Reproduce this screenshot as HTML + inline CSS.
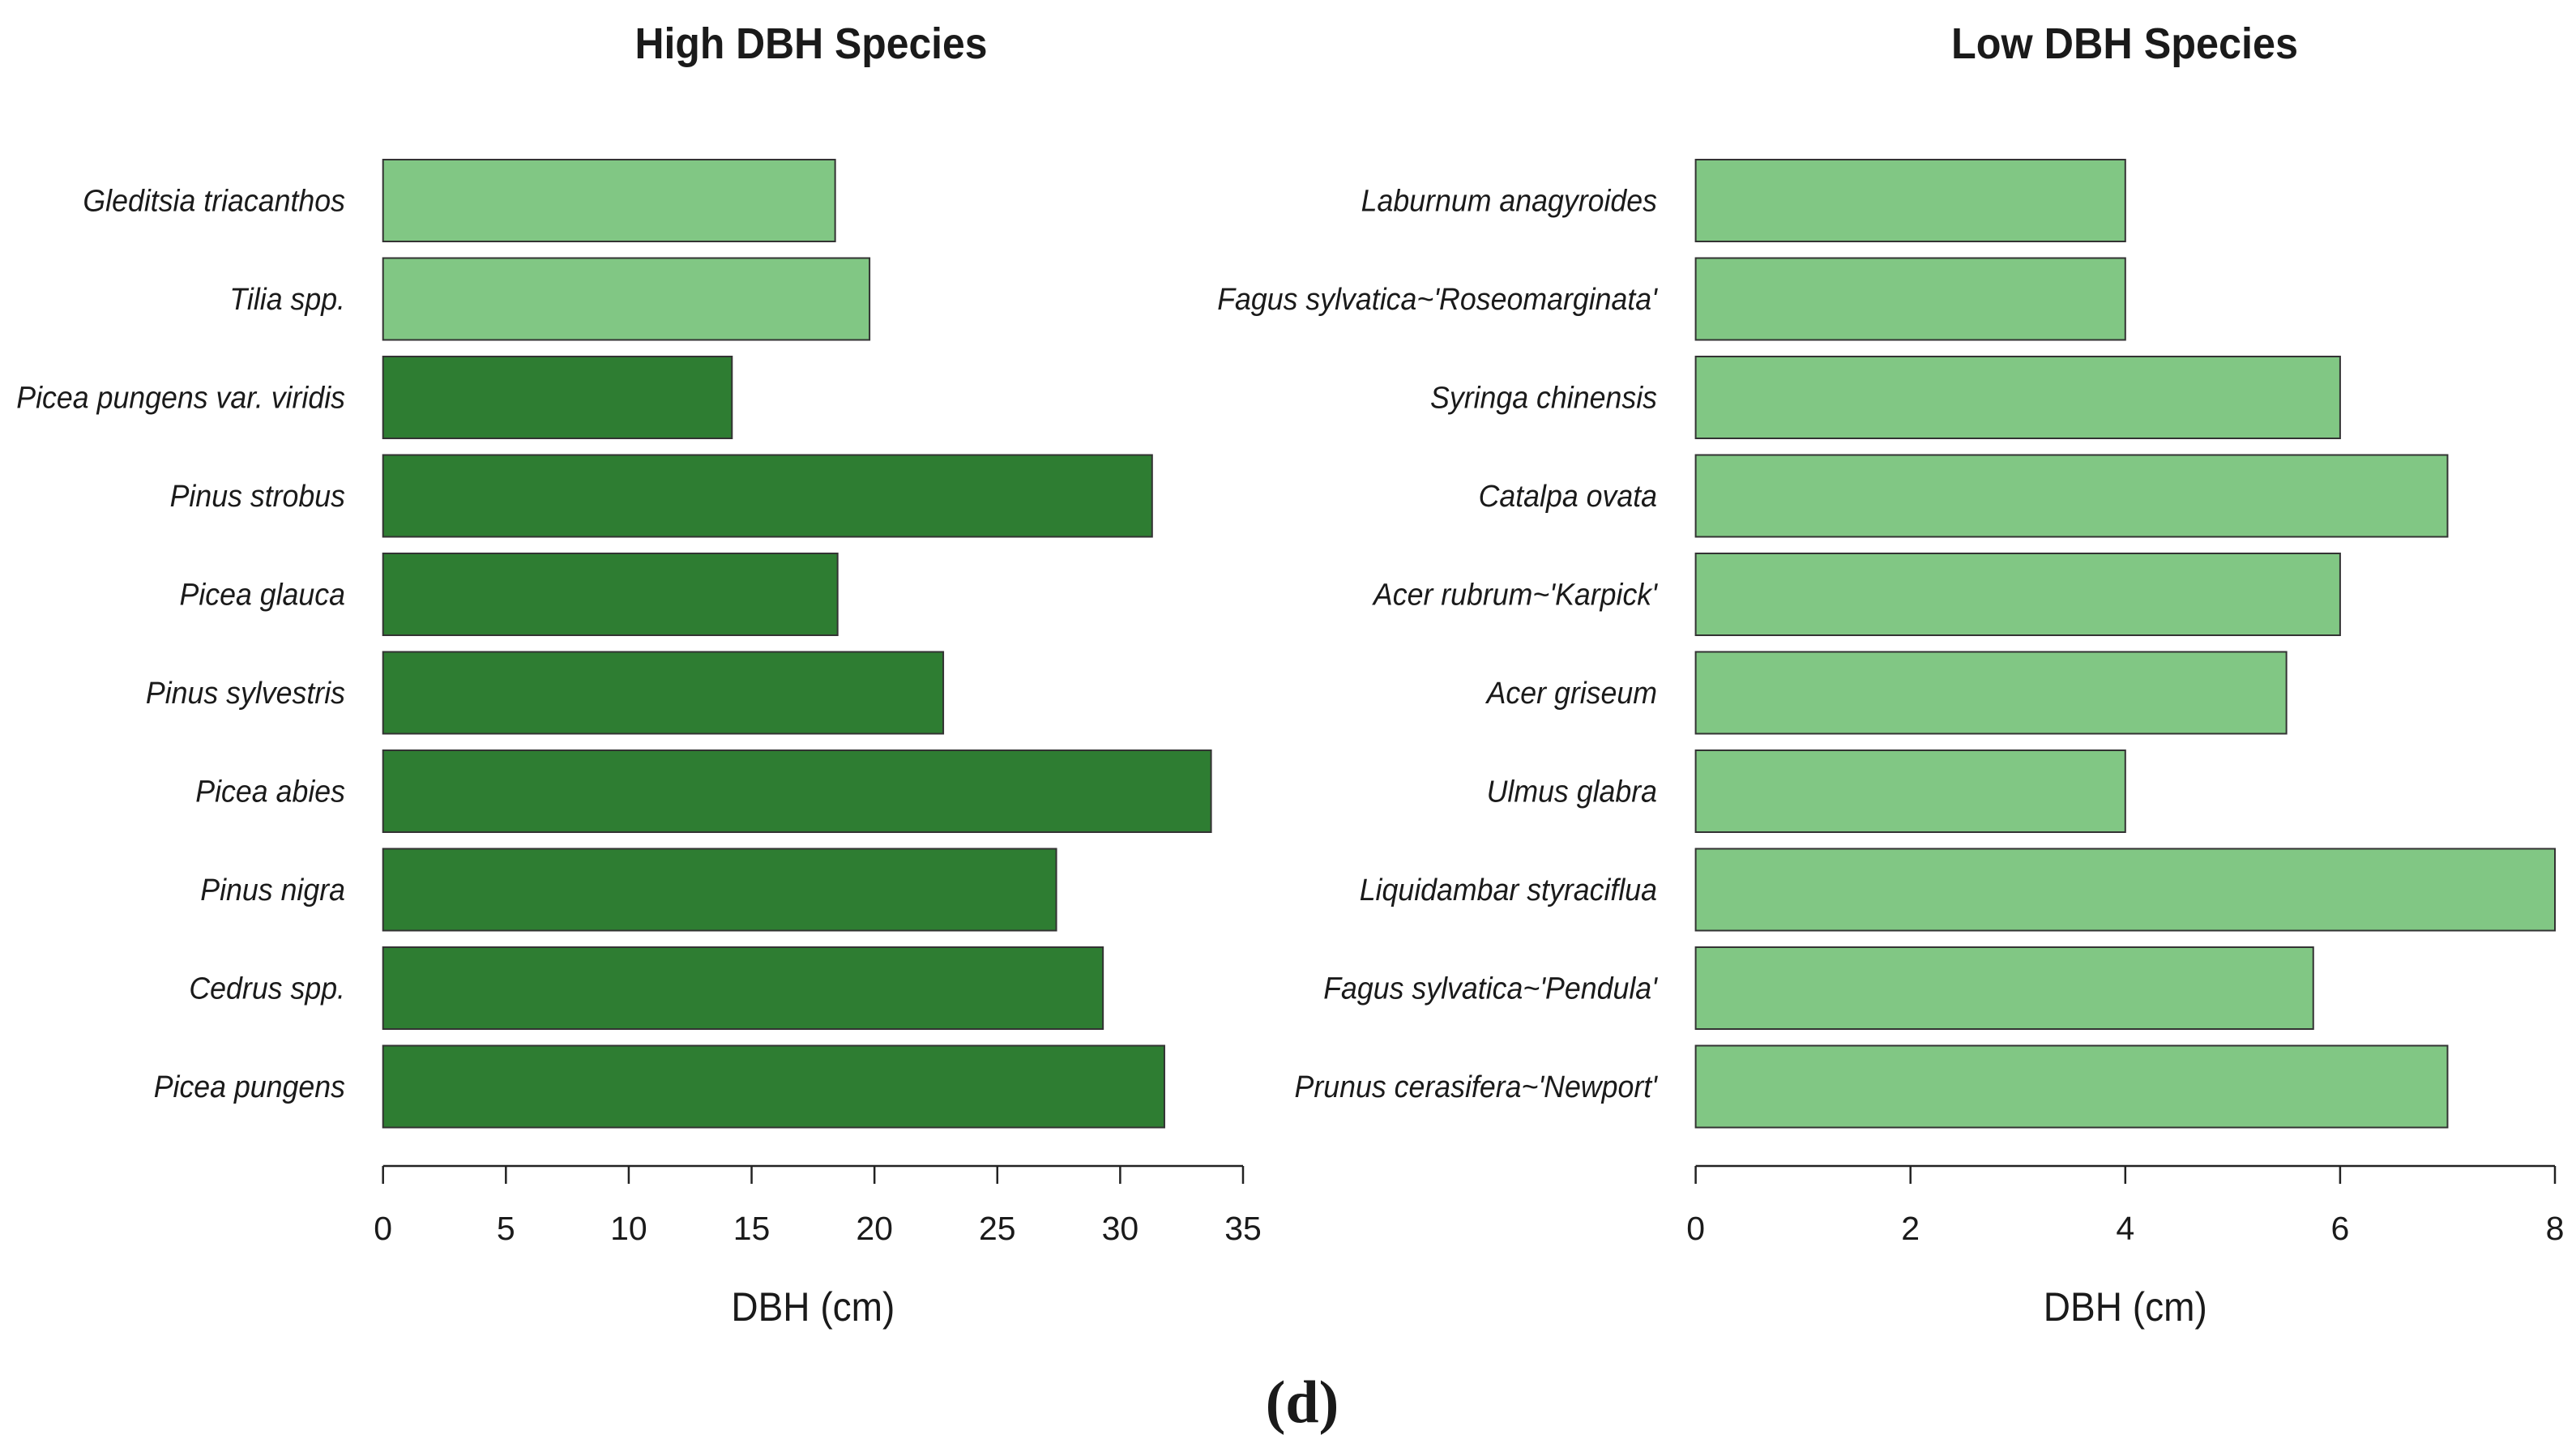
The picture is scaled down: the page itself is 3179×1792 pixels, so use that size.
<!DOCTYPE html>
<html><head><meta charset="utf-8"><style>
html,body{margin:0;padding:0;background:#fff;}
svg{display:block;}
text{font-family:"Liberation Sans",Arial,sans-serif;fill:#1a1a1a;}
</style></head><body>
<svg id="chart" width="3179" height="1792" viewBox="0 0 3179 1792" xmlns="http://www.w3.org/2000/svg">
<text x="1001" y="72" text-anchor="middle" font-weight="bold" font-size="54" textLength="435" lengthAdjust="spacingAndGlyphs">High DBH Species</text>
<text x="2622" y="72" text-anchor="middle" font-weight="bold" font-size="54" textLength="428" lengthAdjust="spacingAndGlyphs">Low DBH Species</text>
<g id="left"></g>
<g id="right"></g>
<text x="1607" y="1755" text-anchor="middle" font-weight="bold" font-size="74" style="font-family:'Liberation Serif',serif">(d)</text>
</svg>
<script>
const highSpecies = ["Gleditsia triacanthos","Tilia spp.","Picea pungens var. viridis","Pinus strobus","Picea glauca","Pinus sylvestris","Picea abies","Pinus nigra","Cedrus spp.","Picea pungens"];
const highValues = [18.4, 19.8, 14.2, 31.3, 18.5, 22.8, 33.7, 27.4, 29.3, 31.8];
const highLight = [true, true, false, false, false, false, false, false, false, false];
const highTicks = [0,5,10,15,20,25,30,35];

const lowSpecies = ["Laburnum anagyroides","Fagus sylvatica~'Roseomarginata'","Syringa chinensis","Catalpa ovata","Acer rubrum~'Karpick'","Acer griseum","Ulmus glabra","Liquidambar styraciflua","Fagus sylvatica~'Pendula'","Prunus cerasifera~'Newport'"];
const lowValues = [4, 4, 6, 7, 6, 5.5, 4, 8, 5.75, 7];
const lowLight = [true, true, true, true, true, true, true, true, true, true];
const lowTicks = [0,2,4,6,8];

const NS = "http://www.w3.org/2000/svg";
function mk(tag, attrs, parent){
  const e = document.createElementNS(NS, tag);
  for (const k in attrs) e.setAttribute(k, attrs[k]);
  parent.appendChild(e); return e;
}
function panel(g, names, vals, light, ticks, x0, x1, xmax, labelRight, prefix){
  const sx = v => x0 + (x1 - x0) * v / xmax;
  const yTop = 197, pitch = 121.5, bh = 101;
  names.forEach((n, i) => {
    const y = yTop + i * pitch;
    const r = mk('rect', {x: sx(0), y: y, width: sx(vals[i]) - sx(0), height: bh,
      fill: light[i] ? '#81c784' : '#2e7d32', stroke: '#333', 'stroke-width': 2}, g);
    
    
    const t = mk('text', {x: labelRight, y: y + bh/2 + 13, 'text-anchor': 'end', 'font-size': 38, 'font-style': 'italic'}, g);
    t.textContent = n;
    
    
    const L = t.getComputedTextLength();
    t.setAttribute('textLength', (L * 0.94).toFixed(1));
    t.setAttribute('lengthAdjust', 'spacingAndGlyphs');
  });
  const axY = 1439;
  const ax = mk('line', {x1: sx(ticks[0]), x2: sx(ticks[ticks.length-1]), y1: axY, y2: axY, stroke: '#222', 'stroke-width': 2.5}, g);
  
  
  ticks.forEach(v => {
    const tk = mk('line', {x1: sx(v), x2: sx(v), y1: axY, y2: axY + 22, stroke: '#222', 'stroke-width': 2.5}, g);
    
    
    const tl = mk('text', {x: sx(v), y: 1530, 'text-anchor': 'middle', 'font-size': 41}, g);
    tl.textContent = v;
    
    
  });
  const at = mk('text', {x: (sx(0) + sx(xmax)) / 2, y: 1630, 'text-anchor': 'middle', 'font-size': 50, textLength: 202, lengthAdjust: 'spacingAndGlyphs'}, g);
  at.textContent = 'DBH (cm)';
  
  
}
panel(document.getElementById('left'), highSpecies, highValues, highLight, highTicks, 472.7, 1534, 35, 426, 'high');
panel(document.getElementById('right'), lowSpecies, lowValues, lowLight, lowTicks, 2092.6, 3153, 8, 2045, 'low');
</script>
</body></html>
